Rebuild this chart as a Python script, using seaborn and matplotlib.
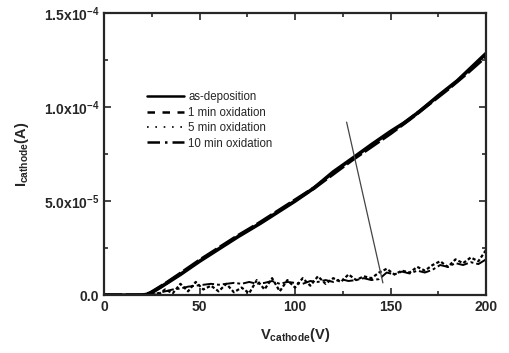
import numpy as np
import pandas as pd
import matplotlib
matplotlib.use('Agg')
import matplotlib.pyplot as plt
from matplotlib.ticker import MultipleLocator
from matplotlib.lines import Line2D
import seaborn as sns

# as-deposition and 1 min oxidation (the thick upper band)
v_dep = [0, 10, 20, 23, 26, 30, 40, 50, 60, 70, 82, 90, 100, 110, 120, 131, 140, 150, 157, 165, 175, 185, 200]
i_dep = [0, 0, 0, 0.05, 0.2, 0.45, 1.1, 1.8, 2.45, 3.1, 3.83, 4.35, 5.0, 5.7, 6.55, 7.34, 8.0, 8.7, 9.15, 9.75, 10.6, 11.4, 12.85]
v_1min = [0, 10, 20, 24, 28, 32, 40, 50, 60, 70, 80, 90, 100, 110, 120, 130, 140, 150, 160, 170, 180, 190, 200]
i_1min = [0, 0, 0, 0.1, 0.35, 0.6, 1.15, 1.85, 2.5, 3.15, 3.75, 4.4, 5.05, 5.7, 6.45, 7.2, 7.9, 8.6, 9.35, 10.15, 10.95, 11.8, 12.7]

# low current curves (5 and 10 min oxidation), values in 1e-5 A
v_low = [20, 24, 28, 32, 36, 40, 44, 48, 52, 56, 60, 64, 68, 72, 76, 80, 84, 88, 92, 96,
         100, 104, 108, 112, 116, 120, 124, 128, 132, 136, 140, 144, 148, 152, 156, 160,
         164, 168, 172, 176, 180, 184, 188, 192, 196, 200]
i_5min = [0, 0.1, 0.0, 0.3, 0.1, 0.6, 0.2, 0.7, 0.3, 0.5, 0.2, 0.6, 0.15, 0.4, 0.1, 0.8, 0.3, 0.9, 0.2, 0.8,
          0.4, 0.9, 0.5, 1.0, 0.6, 0.9, 0.7, 1.1, 0.8, 1.0, 0.9, 1.2, 1.4, 1.1, 1.3, 1.2,
          1.5, 1.3, 1.6, 1.8, 1.5, 1.9, 1.7, 2.0, 1.8, 2.4]
i_10min = [0, 0.05, 0.1, 0.2, 0.3, 0.35, 0.45, 0.5, 0.55, 0.6, 0.55, 0.6, 0.65, 0.6, 0.7, 0.6, 0.65, 0.75, 0.6, 0.7,
           0.65, 0.6, 0.75, 0.7, 0.8, 0.7, 0.85, 0.75, 0.8, 0.9, 0.8, 0.85, 1.2, 1.1, 1.25, 1.15,
           1.3, 1.2, 1.35, 1.6, 1.5, 1.7, 1.6, 1.75, 1.65, 1.9]

# thin stray segment
v_spike = [127, 146]
i_spike = [9.2, 0.65]

labels = ['as-deposition', '1 min oxidation', '5 min oxidation', '10 min oxidation']

sns.set_style('ticks')
plt.rcParams['font.family'] = ['Liberation Sans', 'DejaVu Sans']
plt.rcParams['mathtext.fontset'] = 'custom'
plt.rcParams['mathtext.rm'] = 'Liberation Sans:bold'
plt.rcParams['mathtext.it'] = 'Liberation Sans:bold'
plt.rcParams['mathtext.bf'] = 'Liberation Sans:bold'

fig = plt.figure(figsize=(5.1, 3.53), dpi=100)
ax = fig.add_axes([0.204, 0.164, 0.749, 0.799])

scale = 1e-5
sns.lineplot(x=v_dep, y=np.array(i_dep) * scale, ax=ax, color='black', lw=2.6, sort=False)
sns.lineplot(x=v_1min, y=np.array(i_1min) * scale, ax=ax, color='black', lw=2.6,
             linestyle=(0, (5, 1)), sort=False)
sns.lineplot(x=v_low, y=np.array(i_5min) * scale, ax=ax, color='black', lw=1.6,
             linestyle=(0, (1.5, 1)), sort=False)
sns.lineplot(x=v_low, y=np.array(i_10min) * scale, ax=ax, color='black', lw=1.4,
             linestyle=(0, (6, 1.5, 1.5, 1.5)), sort=False)
sns.lineplot(x=v_spike, y=np.array(i_spike) * scale, ax=ax, color='#444444', lw=0.9, sort=False)

ax.set_xlim(0, 200)
ax.set_ylim(0, 1.5e-4)
ax.xaxis.set_major_locator(MultipleLocator(50))
ax.xaxis.set_minor_locator(MultipleLocator(25))
ax.set_yticks([0, 5e-5, 1e-4, 1.5e-4])
ax.set_yticklabels(['0.0', '5.0x10$^{-5}$', '1.0x10$^{-4}$', '1.5x10$^{-4}$'])
ax.yaxis.set_minor_locator(MultipleLocator(2.5e-5))
ax.tick_params(which='both', direction='in', top=True, right=True, width=1.2)
ax.tick_params(which='major', length=5, labelsize=10)
ax.tick_params(which='minor', length=3)
for lab in ax.get_xticklabels() + ax.get_yticklabels():
    lab.set_fontweight('bold')
for spine in ax.spines.values():
    spine.set_linewidth(1.6)

ax.set_xlabel('V$_{\\mathregular{cathode}}$(V)', fontsize=10.5, fontweight='bold', labelpad=9)
ax.set_ylabel('I$_{\\mathregular{cathode}}$(A)', fontsize=10.5, fontweight='bold', labelpad=9)

handles = [
    Line2D([], [], color='black', lw=1.8),
    Line2D([], [], color='black', lw=1.8, linestyle=(0, (3, 3))),
    Line2D([], [], color='black', lw=1.2, linestyle=(0, (1, 4))),
    Line2D([], [], color='black', lw=1.8, linestyle=(0, (5, 2, 1, 2))),
]
ax.legend(handles, labels, loc='upper left', bbox_to_anchor=(0.085, 0.76), frameon=False,
          fontsize=8.3, handlelength=3.2, handletextpad=0.4, labelspacing=0.3)

fig.savefig('out.png', dpi=100)
